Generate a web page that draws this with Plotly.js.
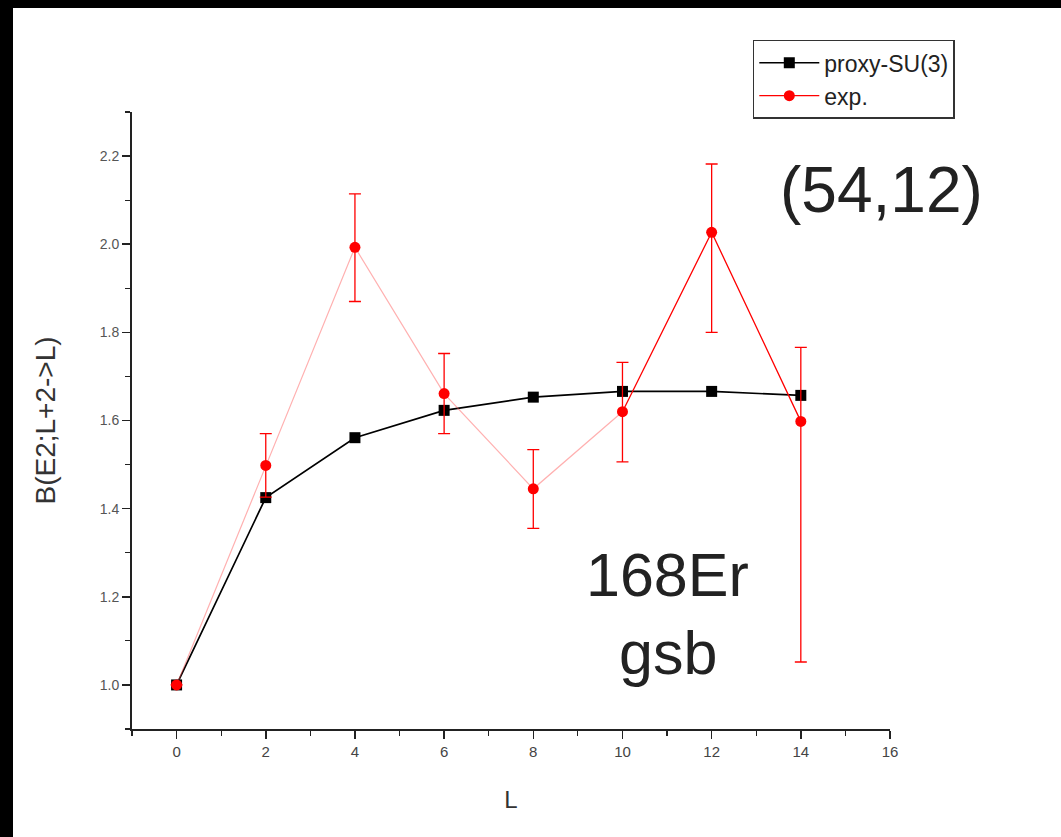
<!DOCTYPE html>
<html>
<head>
<meta charset="utf-8">
<script src="https://cdn.plot.ly/plotly-3.0.1.min.js"></script>
<style>
  html, body { margin: 0; padding: 0; background: #000; width: 1061px; height: 837px; overflow: hidden; }
  #chart { position: absolute; left: 13px; top: 8px; width: 1048px; height: 829px; background: #fff; }
</style>
</head>
<body>
<div id="chart"></div>
<script>
// L values (x axis)
const L = [0, 2, 4, 6, 8, 10, 12, 14];
// proxy-SU(3) predictions
const proxySU3 = [1.00, 1.425, 1.561, 1.623, 1.653, 1.666, 1.666, 1.657];
// experimental values with asymmetric errors
const expVals = [1.00, 1.498, 1.993, 1.661, 1.445, 1.620, 2.027, 1.598];
const expErrPlus = [0.0, 0.072, 0.121, 0.091, 0.089, 0.112, 0.155, 0.168];
const expErrMinus = [0.0, 0.072, 0.123, 0.091, 0.090, 0.114, 0.227, 0.546];
// index where the experimental line turns solid
const solidFrom = 5;

const xTicks = [0, 2, 4, 6, 8, 10, 12, 14, 16];
const yTicks = [1.0, 1.2, 1.4, 1.6, 1.8, 2.0, 2.2];

const red = '#ff0000';
const tickFont = {family: 'Liberation Sans Narrow, Arial Narrow, Liberation Sans, Arial, sans-serif', size: 15, color: '#444'};

const traces = [
  {
    name: 'proxy-SU(3)', x: L, y: proxySU3, mode: 'lines+markers',
    line: {color: '#000', width: 1.7},
    marker: {symbol: 'square', size: 11, color: '#000'}
  },
  {
    name: 'exp-faint', showlegend: false, hoverinfo: 'skip',
    x: L.slice(0, solidFrom + 1), y: expVals.slice(0, solidFrom + 1), mode: 'lines',
    line: {color: 'rgba(255,80,80,0.45)', width: 1.2}
  },
  {
    name: 'exp-faint-pts', showlegend: false,
    x: L.slice(0, solidFrom), y: expVals.slice(0, solidFrom), mode: 'markers',
    marker: {symbol: 'circle', size: 11, color: red},
    error_y: {type: 'data', symmetric: false, array: expErrPlus.slice(0, solidFrom), arrayminus: expErrMinus.slice(0, solidFrom), color: red, thickness: 1.3, width: 6}
  },
  {
    name: 'exp.', x: L.slice(solidFrom), y: expVals.slice(solidFrom), mode: 'lines+markers',
    line: {color: red, width: 1.3},
    marker: {symbol: 'circle', size: 11, color: red},
    error_y: {type: 'data', symmetric: false, array: expErrPlus.slice(solidFrom), arrayminus: expErrMinus.slice(solidFrom), color: red, thickness: 1.3, width: 6}
  }
];

const layout = {
  width: 1048, height: 829,
  margin: {l: 119, r: 171, t: 104, b: 108, autoexpand: false},
  paper_bgcolor: '#fff', plot_bgcolor: '#fff',
  showlegend: true,
  legend: {
    x: 0.819, xanchor: 'left', y: 1.117, yanchor: 'top',
    xref: 'paper', yref: 'paper',
    bgcolor: '#fff', bordercolor: '#333', borderwidth: 1.5,
    font: {family: 'Liberation Sans, Arial, sans-serif', size: 23, color: '#222'},
    tracegroupgap: 0, itemwidth: 60
  },
  xaxis: {
    range: [-1, 16], tickmode: 'array', tickvals: xTicks, ticktext: xTicks.map(String),
    ticks: 'outside', ticklen: 8, tickwidth: 1.5, tickcolor: '#222',
    minor: {dtick: 1, tick0: -1, ticks: 'outside', ticklen: 5, tickwidth: 1.2, tickcolor: '#222'},
    showline: true, linecolor: '#222', linewidth: 2, showgrid: false, zeroline: false,
    tickfont: tickFont,
    title: {text: 'L', font: {family: 'Liberation Sans Narrow, Arial, sans-serif', size: 24, color: '#333'}, standoff: 32}
  },
  yaxis: {
    range: [0.9, 2.3], tickmode: 'array', tickvals: yTicks, ticktext: yTicks.map(v => v.toFixed(1)),
    ticks: 'outside', ticklen: 8, tickwidth: 1.5, tickcolor: '#222',
    minor: {dtick: 0.1, tick0: 0.9, ticks: 'outside', ticklen: 5, tickwidth: 1.2, tickcolor: '#222'},
    showline: true, linecolor: '#222', linewidth: 2, showgrid: false, zeroline: false,
    tickfont: {family: 'Liberation Sans, Arial, sans-serif', size: 14, color: '#555'},
    title: {text: 'B(E2;L+2->L)', font: {family: 'Liberation Sans, Arial, sans-serif', size: 28, color: '#333'}, standoff: 36}
  },
  annotations: [
    {text: '(54,12)', xref: 'paper', yref: 'paper', x: 1.125, y: 0.874, xanchor: 'right', yanchor: 'middle', showarrow: false,
     font: {family: 'Liberation Sans, Arial, sans-serif', size: 64, color: '#222'}},
    {text: '168Er', xref: 'paper', yref: 'paper', x: 0.707, y: 0.250, xanchor: 'center', yanchor: 'middle', showarrow: false,
     font: {family: 'Liberation Sans, Arial, sans-serif', size: 61, color: '#222'}},
    {text: 'gsb', xref: 'paper', yref: 'paper', x: 0.707, y: 0.123, xanchor: 'center', yanchor: 'middle', showarrow: false,
     font: {family: 'Liberation Sans, Arial, sans-serif', size: 61, color: '#222'}}
  ]
};

Plotly.newPlot('chart', traces, layout, {displayModeBar: false, staticPlot: true});
</script>
</body>
</html>
